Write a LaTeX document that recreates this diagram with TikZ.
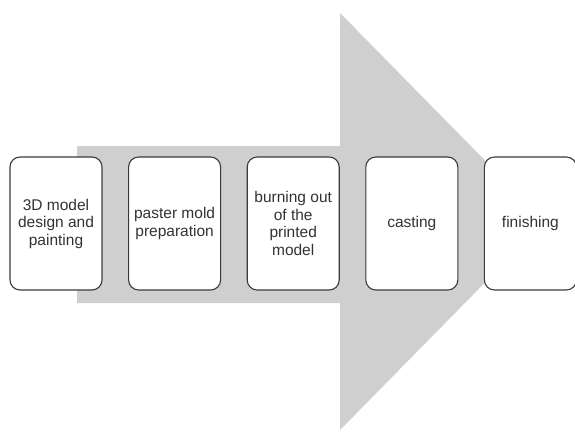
\documentclass[tikz,border=0pt]{standalone}
\usepackage{fontspec}
\setmainfont{Liberation Sans}
\usepackage{tikz}
\usetikzlibrary{positioning}
\usepackage{xcolor}
\definecolor{arrow_grey}{HTML}{CFCFCF}
\definecolor{box_line}{HTML}{3A3A3A}
\definecolor{box_text}{HTML}{333333}

\begin{document}
\begin{tikzpicture}[x=1pt, y=-1pt,
	stage/.style={draw=box_line, fill=white, line width=1.1pt, rounded corners=10pt,
		minimum width=92pt, minimum height=133pt, inner sep=2pt,
		align=center, text=box_text, font=\fontsize{15.5}{17.5}\selectfont}]
	\useasboundingbox (0, 0) rectangle (575, 431);
	\coordinate (T1) at (77, 146);
	\coordinate (T2) at (340, 146);
	\coordinate (H1) at (340, 13);
	\coordinate (tip) at (545, 221.5);
	\coordinate (H2) at (340, 430);
	\coordinate (T3) at (340, 303);
	\coordinate (T4) at (77, 303);
	\fill[arrow_grey] (T1) -- (T2) -- (H1) -- (tip) -- (H2) -- (T3) -- (T4) -- cycle;
	\node[stage] (S1) at (56, 223.5) {3D model\\design and\\painting};
	\node[stage, right=25.5pt of S1] (S2) {paster mold\\preparation};
	\node[stage, right=25.5pt of S2] (S3) {burning out\\of the\\printed\\model};
	\node[stage, right=25.5pt of S3] (S4) {casting};
	\node[stage, right=25.5pt of S4] (S5) {finishing};
\end{tikzpicture}
\end{document}
